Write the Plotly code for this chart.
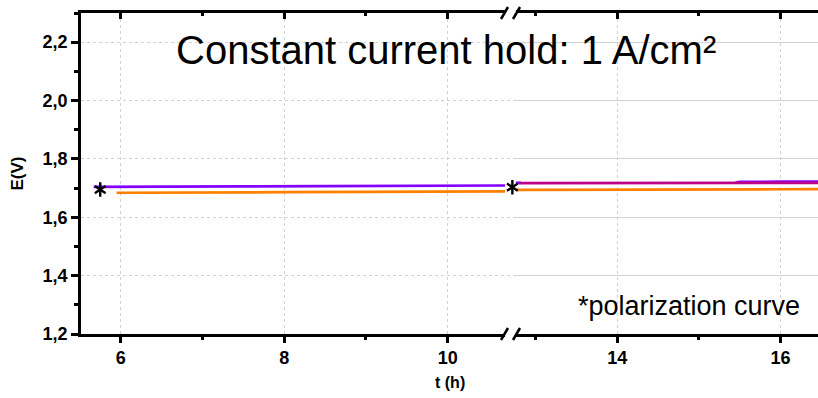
import plotly.graph_objects as go

# Potential traces during the constant-current hold (broken time axis)
purple_left_t = [5.67, 6.0, 6.65, 6.7, 7.5, 8.5, 9.5, 10.0, 10.5, 10.8]
purple_left_E = [1.704, 1.704, 1.704, 1.706, 1.706, 1.707, 1.708, 1.709, 1.709, 1.709]
orange_left_t = [5.95, 6.8, 7.0, 8.0, 9.0, 10.0, 10.5, 10.8]
orange_left_E = [1.684, 1.684, 1.685, 1.686, 1.687, 1.689, 1.689, 1.689]

# purple run after the break: a short stretch at the start, then the later part
purple_right_t = [12.7, 12.82, None, 15.45, 15.5, 16.0, 16.6]
purple_right_E = [1.718, 1.718, None, 1.719, 1.721, 1.722, 1.722]
magenta_right_t = [12.8, 13.5, 14.5, 15.5, 16.0, 16.6]
magenta_right_E = [1.717, 1.717, 1.717, 1.717, 1.718, 1.718]
orange_right_t = [12.7, 13.5, 14.5, 15.5, 15.6, 16.0, 16.6]
orange_right_E = [1.694, 1.694, 1.694, 1.694, 1.696, 1.696, 1.697]

# Polarization-curve markers, placed on the continuous (left-scale) time axis
star_t = [5.75, 10.79]
star_E = [1.695, 1.703]

y_ticks = [1.2, 1.4, 1.6, 1.8, 2.0, 2.2]
x_left_ticks = [6, 8, 10]
x_right_ticks = [12, 14, 16]

PURPLE = "#8400FF"
ORANGE = "#FF8000"
MAGENTA = "#BE0088"
FONT = "Liberation Sans, Arial, sans-serif"

W, H = 818, 398
ML, MR, MT, MB = 81, 0, 13, 64
PW = W - ML - MR
left_dom = [0, (505 - ML) / PW]
right_dom = [(516 - ML) / PW, 1]
left_rng = [5.515, 10.70]
right_rng = [12.76, 16.46]
# full-width axis sharing the left segment's scale
full_rng = [left_rng[0], left_rng[0] + (left_rng[1] - left_rng[0]) * PW / (505 - ML)]

fig = go.Figure()

def line(t, e, color, xa):
    fig.add_trace(go.Scatter(x=t, y=e, mode="lines", xaxis=xa, yaxis="y",
                             line=dict(color=color, width=2.7), showlegend=False,
                             connectgaps=False, hoverinfo="skip"))

line(orange_left_t, orange_left_E, ORANGE, "x")
line(purple_left_t, purple_left_E, PURPLE, "x")
line(orange_right_t, orange_right_E, ORANGE, "x2")
line(purple_right_t, purple_right_E, PURPLE, "x2")
line(magenta_right_t, magenta_right_E, MAGENTA, "x2")

# six-armed asterisk built from two opposite "Y" symbols
for sym in ("y-up-open", "y-down-open"):
    fig.add_trace(go.Scatter(x=star_t, y=star_E, mode="markers", xaxis="x5", yaxis="y",
                             marker=dict(symbol=sym, size=9, color="black",
                                         line=dict(color="black", width=2.4)),
                             cliponaxis=False, showlegend=False, hoverinfo="skip"))

# empty traces so the top tick axes are drawn
fig.add_trace(go.Scatter(x=[], y=[], xaxis="x3", yaxis="y", showlegend=False))
fig.add_trace(go.Scatter(x=[], y=[], xaxis="x4", yaxis="y", showlegend=False))

tickfont = dict(family=FONT, size=18, color="black", weight="bold")
grid = dict(showgrid=True, gridcolor="#d2d2d2", griddash="dot", gridwidth=1)

def xaxis_common(dom, rng, ticks):
    return dict(domain=dom, range=rng, anchor="y", tickvals=ticks, ticks="outside",
                ticklen=6, tickwidth=2.5, tickcolor="black", showline=True,
                linecolor="black", linewidth=2.6, zeroline=False, tickfont=tickfont,
                minor=dict(dtick=1, tick0=0, ticks="outside", ticklen=3, tickwidth=2.5,
                           tickcolor="black", showgrid=False),
                **grid)

def xaxis_top(overlay, rng, ticks):
    return dict(overlaying=overlay, side="top", anchor="y", range=rng, tickvals=ticks,
                ticks="inside", ticklen=6, tickwidth=2.5, tickcolor="black",
                showline=True, linecolor="black", linewidth=2.8, showticklabels=False,
                showgrid=False, zeroline=False,
                minor=dict(dtick=1, tick0=0, ticks="inside", ticklen=3, tickwidth=2.5,
                           tickcolor="black"))

fig.update_layout(
    width=W, height=H, margin=dict(l=ML, r=MR, t=MT, b=MB),
    plot_bgcolor="rgba(0,0,0,0)", paper_bgcolor="white", separators=",.",
    xaxis=xaxis_common(left_dom, left_rng, x_left_ticks),
    xaxis2=xaxis_common(right_dom, right_rng, x_right_ticks),
    xaxis3=xaxis_top("x", left_rng, x_left_ticks),
    xaxis4=xaxis_top("x2", right_rng, x_right_ticks),
    xaxis5=dict(domain=[0, 1], range=full_rng, anchor="y", visible=False,
                showgrid=False, zeroline=False),
    yaxis=dict(range=[1.2, 2.3], tickvals=y_ticks, tickformat=".1f", ticks="outside",
               ticklen=7, tickwidth=2.5, tickcolor="black", showline=True,
               linecolor="black", linewidth=2.6, zeroline=False, tickfont=tickfont,
               minor=dict(dtick=0.1, tick0=1.2, ticks="outside", ticklen=4, tickwidth=2.5,
                          tickcolor="black", showgrid=False),
               **grid),
    annotations=[
        dict(text="Constant current hold: 1 A/cm²", xref="paper", yref="paper",
             x=0.495, y=0.886, showarrow=False, xanchor="center", yanchor="middle",
             font=dict(family=FONT, size=40, color="black")),
        dict(text="*polarization curve", xref="paper", yref="paper",
             x=0.8255, y=0.088, showarrow=False, xanchor="center", yanchor="middle",
             font=dict(family=FONT, size=27, color="black")),
        dict(text="t (h)", xref="paper", yref="paper", x=0.5, y=-0.152,
             showarrow=False, xanchor="center", yanchor="middle",
             font=dict(family=FONT, size=16, color="black", weight="bold")),
        dict(text="E(V)", xref="paper", yref="paper", x=-0.0855, y=0.5,
             showarrow=False, xanchor="center", yanchor="middle", textangle=-90,
             font=dict(family=FONT, size=17, color="black", weight="bold")),
    ],
)

# break marks on the time axis (bottom and top)
def slash(xc, yc):
    fig.add_shape(type="line", xref="paper", yref="paper",
                  x0=(xc - 3.5 - ML) / PW, x1=(xc + 3.5 - ML) / PW,
                  y0=yc - 6 / (H - MT - MB), y1=yc + 6 / (H - MT - MB),
                  line=dict(color="black", width=2.5))

for yc in (0, 1):
    slash(504.5, yc)
    slash(516.5, yc)

fig.write_html("out.html")
